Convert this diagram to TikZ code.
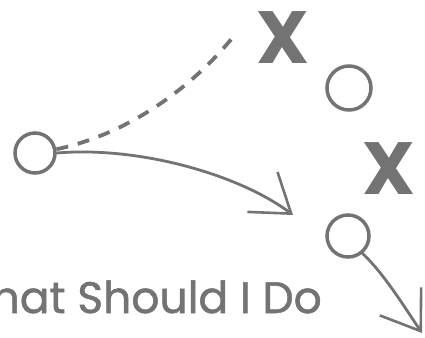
\documentclass[tikz,border=0pt]{standalone}
\usepackage{fontspec}
\setmainfont{Poppins}
\newfontfamily\titlefont[FakeBold=1.2]{Poppins}
\usetikzlibrary{arrows.meta}
\definecolor{ink}{RGB}{115,115,115}
\tikzset{
  ring/.style={circle, draw=ink, line width=3.5pt, minimum size=#1, inner sep=0pt},
  xmark/.style={text=ink, inner sep=0pt, font=\fontsize{74}{74}\selectfont\bfseries},
  route/.style={draw=ink, line width=2.8pt, line cap=round},
  barb/.style={-{Straight Barb[length=36pt,width=50pt,line width=2.6pt]}},
  dashroute/.style={draw=ink, line width=3.8pt, dash pattern=on 12pt off 10pt},
}
\begin{document}
\begin{tikzpicture}[x=1pt,y=-1pt]
\useasboundingbox (0,0) rectangle (425,337);
\clip (0,0) rectangle (425,337);
% rings
\node[ring=40pt] (o1) at (35,153) {};
\node[ring=44pt] (o2) at (349,88) {};
\node[ring=42pt] (o3) at (348,236) {};
% X marks
\node[xmark] (x1) at (283,38) {X};
\node[xmark] (x2) at (389,169) {X};
% end coordinates
\coordinate (d1) at (233,37);
\coordinate (t1) at (293,215);
\coordinate (t2) at (422,333);
% dashed route
\draw[dashroute] (o1.10) .. controls (125,135) and (190,90) .. (d1);
% solid routes with arrows
\draw[route, barb] (o1.east) .. controls (140,146) and (240,175) .. (t1);
\draw[route, barb] (o3.-50) .. controls (385,275) and (405,308) .. (t2);
% title
\node[anchor=base east, text=ink, inner sep=0pt, font=\titlefont\fontsize{44}{44}\selectfont] (title) at (322,313) {What Should I Do};
\end{tikzpicture}
\end{document}
